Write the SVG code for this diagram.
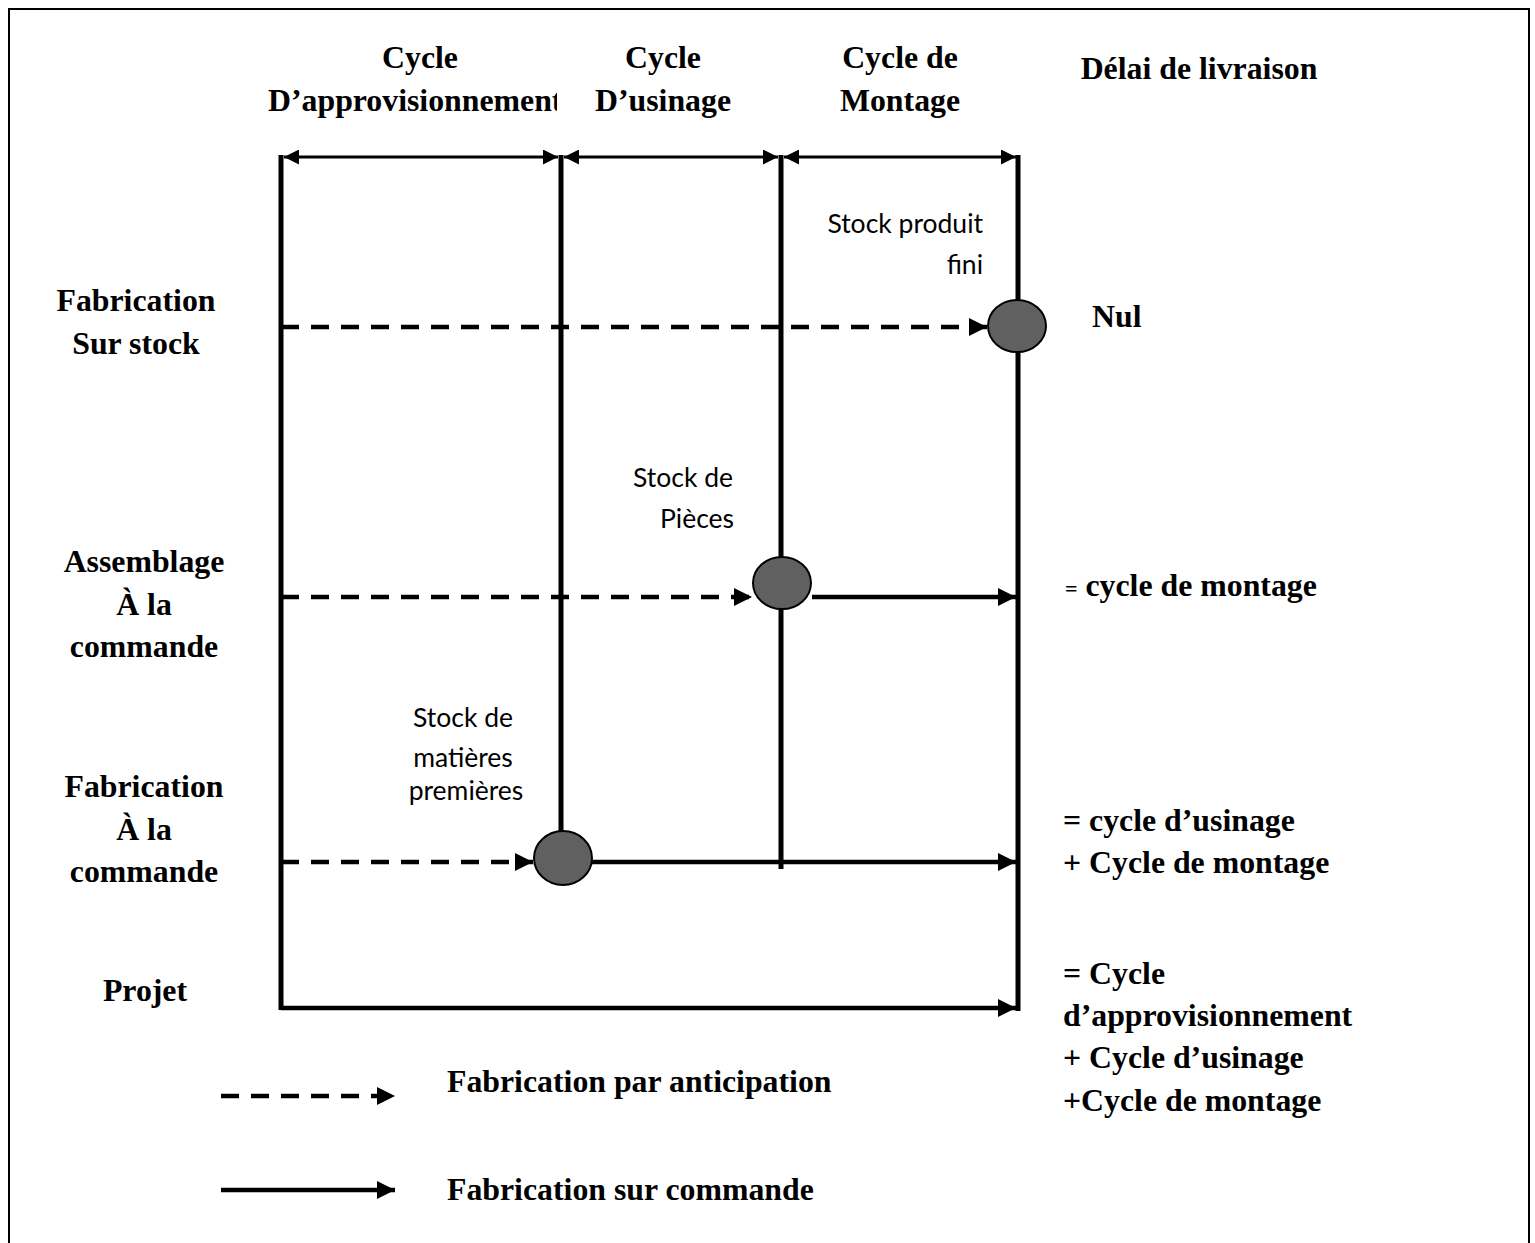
<svg xmlns="http://www.w3.org/2000/svg" width="1535" height="1243" viewBox="0 0 1535 1243">
  <style>
    .hdr { font-family: "Liberation Serif", "Times New Roman", serif; font-weight: bold; font-size: 31.8px; fill: #000; }
    .note { font-family: Lato, "Open Sans", sans-serif; font-size: 26.5px; fill: #000; }
    .axis { stroke: #000; stroke-width: 5; fill: none; }
    .dim { stroke: #000; stroke-width: 3; fill: none; }
    .dash { stroke: #000; stroke-width: 4.5; stroke-dasharray: 18 12; fill: none; }
    .solid { stroke: #000; stroke-width: 4.5; fill: none; }
    .stock { fill: #606060; stroke: #000; stroke-width: 2; }
  </style>
  <defs>
    <marker id="head" viewBox="0 0 10 10" refX="10" refY="5" markerWidth="4.4" markerHeight="4" orient="auto-start-reverse" markerUnits="strokeWidth">
      <path d="M0,0 L10,5 L0,10 Z" fill="#000"/>
    </marker>
    <marker id="headDim" viewBox="0 0 10 10" refX="10" refY="5" markerWidth="5.5" markerHeight="5" orient="auto-start-reverse" markerUnits="strokeWidth">
      <path d="M0,0 L10,5 L0,10 Z" fill="#000"/>
    </marker>
    <clipPath id="colClip">
      <rect x="0" y="0" width="557" height="140"/>
    </clipPath>
  </defs>

  <rect width="1535" height="1243" fill="#fff"/>
  <!-- page frame (open at the bottom) -->
  <path d="M9,1243 V9 H1529 V1243" fill="none" stroke="#000" stroke-width="2"/>

  <!-- column headers -->
  <g id="hdr-appro">
    <text class="hdr" x="420" y="68" text-anchor="middle">Cycle</text>
    <text class="hdr" x="268" y="111" clip-path="url(#colClip)">D’approvisionnement</text>
  </g>
  <g id="hdr-usinage">
    <text class="hdr" x="663" y="68" text-anchor="middle">Cycle</text>
    <text class="hdr" x="663" y="111" text-anchor="middle">D’usinage</text>
  </g>
  <g id="hdr-montage">
    <text class="hdr" x="900" y="68" text-anchor="middle">Cycle de</text>
    <text class="hdr" x="900" y="111" text-anchor="middle">Montage</text>
  </g>
  <g id="hdr-delai">
    <text class="hdr" x="1199" y="79" text-anchor="middle">Délai de livraison</text>
  </g>

  <!-- row headers -->
  <g id="row-stock">
    <text class="hdr" x="136" y="311" text-anchor="middle">Fabrication</text>
    <text class="hdr" x="136" y="354" text-anchor="middle">Sur stock</text>
  </g>
  <g id="row-assemblage">
    <text class="hdr" x="144" y="572" text-anchor="middle">Assemblage</text>
    <text class="hdr" x="144" y="615" text-anchor="middle">À la</text>
    <text class="hdr" x="144" y="657" text-anchor="middle">commande</text>
  </g>
  <g id="row-fabrication">
    <text class="hdr" x="144" y="797" text-anchor="middle">Fabrication</text>
    <text class="hdr" x="144" y="840" text-anchor="middle">À la</text>
    <text class="hdr" x="144" y="882" text-anchor="middle">commande</text>
  </g>
  <g id="row-projet">
    <text class="hdr" x="145" y="1001" text-anchor="middle">Projet</text>
  </g>

  <!-- lead time results -->
  <g id="delai-nul">
    <text class="hdr" x="1092" y="327">Nul</text>
  </g>
  <g id="delai-assemblage">
    <text class="hdr" x="1065" y="596"><tspan font-size="22px">=</tspan> cycle de montage</text>
  </g>
  <g id="delai-fabrication">
    <text class="hdr" x="1063" y="831">= cycle d’usinage</text>
    <text class="hdr" x="1063" y="873">+ Cycle de montage</text>
  </g>
  <g id="delai-projet">
    <text class="hdr" x="1063" y="984">= Cycle</text>
    <text class="hdr" x="1063" y="1026">d’approvisionnement</text>
    <text class="hdr" x="1063" y="1068">+ Cycle d’usinage</text>
    <text class="hdr" x="1063" y="1111">+Cycle de montage</text>
  </g>

  <!-- connectors -->
  <g id="connectors">
    <!-- cycle boundaries -->
    <path class="axis" d="M281,155 V1010"/>
    <path class="axis" d="M561,155 V832"/>
    <path class="axis" d="M781,155 V869"/>
    <path class="axis" d="M1018,155 V1011"/>
    <!-- cycle spans -->
    <path class="dim" d="M284,157 H558" marker-start="url(#headDim)" marker-end="url(#headDim)"/>
    <path class="dim" d="M564,157 H778" marker-start="url(#headDim)" marker-end="url(#headDim)"/>
    <path class="dim" d="M784,157 H1016" marker-start="url(#headDim)" marker-end="url(#headDim)"/>
    <!-- anticipation flows -->
    <path class="dash" d="M281,327 H987" marker-end="url(#head)"/>
    <path class="dash" d="M281,597 H752" marker-end="url(#head)"/>
    <path class="dash" d="M281,862 H533" marker-end="url(#head)"/>
    <!-- order-driven flows -->
    <path class="solid" d="M812,597 H1016" marker-end="url(#head)"/>
    <path class="solid" d="M592,862 H1016" marker-end="url(#head)"/>
    <path class="solid" stroke-width="5.5" d="M281,1008 H1016" marker-end="url(#head)"/>
  </g>

  <!-- stock points -->
  <g id="stock-fini">
    <ellipse class="stock" cx="1017" cy="326" rx="29" ry="26"/>
    <text class="note" x="983" y="233" text-anchor="end">Stock produit</text>
    <text class="note" x="983" y="274" text-anchor="end">fini</text>
  </g>
  <g id="stock-pieces">
    <ellipse class="stock" cx="782" cy="583" rx="29" ry="26"/>
    <text class="note" x="683" y="487" text-anchor="middle">Stock de</text>
    <text class="note" x="697" y="528" text-anchor="middle">Pièces</text>
  </g>
  <g id="stock-matieres">
    <ellipse class="stock" cx="563" cy="858" rx="29" ry="27"/>
    <text class="note" x="463" y="727" text-anchor="middle">Stock de</text>
    <text class="note" x="463" y="767" text-anchor="middle">matières</text>
    <text class="note" x="466" y="800" text-anchor="middle">premières</text>
  </g>

  <!-- legend -->
  <g id="legend">
    <path class="dash" d="M221,1096 H395" marker-end="url(#head)"/>
    <text class="hdr" x="447" y="1092">Fabrication par anticipation</text>
    <path class="solid" d="M221,1190 H395" marker-end="url(#head)"/>
    <text class="hdr" x="447" y="1200">Fabrication sur commande</text>
  </g>
</svg>
